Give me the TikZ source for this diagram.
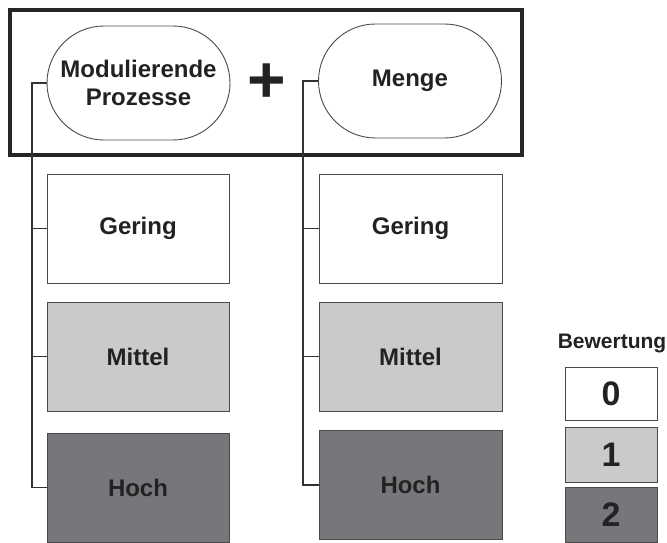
\documentclass[tikz,border=0pt]{standalone}
\usepackage{fontspec}
\setmainfont{Liberation Sans}
\begin{document}
\begin{tikzpicture}[x=1pt,y=-1pt,
  lbl/.style={font=\fontsize{24}{28}\selectfont\bfseries, text=txt},
  stadium/.style={draw=edge, line width=0.9pt, fill=white, rounded corners=57pt, minimum width=183pt, minimum height=114pt, inner sep=0pt, lbl, align=center},
  level/.style={draw=edge, line width=1pt, minimum width=182pt, minimum height=109pt, inner sep=0pt, lbl},
  legbox/.style={draw=edge, line width=1pt, minimum width=92pt, inner sep=0pt, font=\fontsize{34}{38}\selectfont\bfseries, text=txt},
  conn/.style={draw=conncol, line width=1.2pt}]
\definecolor{edge}{HTML}{4A4A4A}
\definecolor{txt}{HTML}{222222}
\definecolor{conncol}{HTML}{333333}
\definecolor{midgray}{HTML}{C9CACC}
\definecolor{darkgray}{HTML}{76777A}
\useasboundingbox (0,0) rectangle (667,543);
\fill[white] (0,0) rectangle (667,543);
% frame
\node[draw=black!85, line width=3.5pt, minimum width=512pt, minimum height=145pt, inner sep=0pt] (frame) at (266,82.5) {};
% stadiums
\node[stadium] (mp) at (138.5,83) {Modulierende\\Prozesse};
\node[stadium] (me) at (410,81) {Menge};
\node[inner sep=0pt, font=\fontsize{66}{66}\selectfont\bfseries, text=txt] (plus) at (266.5,83.5) {+};
% left column
\node[level, fill=white] (lg) at (138,228.5) {Gering};
\node[level, fill=midgray] (lm) at (138,356.5) {Mittel};
\node[level, fill=darkgray] (lh) at (138,487.5) {Hoch};
% right column
\node[level, fill=white, minimum width=183pt] (rg) at (410.5,228.5) {Gering};
\node[level, fill=midgray, minimum width=183pt] (rm) at (410.5,356.5) {Mittel};
\node[level, fill=darkgray, minimum width=183pt] (rh) at (410.5,485) {Hoch};
% connectors
\coordinate (lt) at (32,83);
\coordinate (rt) at (303,81);
\draw[conn] (mp.west) -- (lt) |- (lh.west);
\draw[conn] (lt |- lg.west) -- (lg.west);
\draw[conn] (lt |- lm.west) -- (lm.west);
\draw[conn] (me.west) -- (rt) |- (rh.west);
\draw[conn] (rt |- rg.west) -- (rg.west);
\draw[conn] (rt |- rm.west) -- (rm.west);
% legend
\node[font=\fontsize{21}{24}\selectfont\bfseries, text=txt, inner sep=0pt] (bew) at (612,343) {Bewertung};
\node[legbox, fill=white, minimum height=53pt] (b0) at (611,393.5) {0};
\node[legbox, fill=midgray, minimum height=55pt] (b1) at (611,454.5) {1};
\node[legbox, fill=darkgray, minimum height=55pt] (b2) at (611,514.5) {2};
\end{tikzpicture}
\end{document}
